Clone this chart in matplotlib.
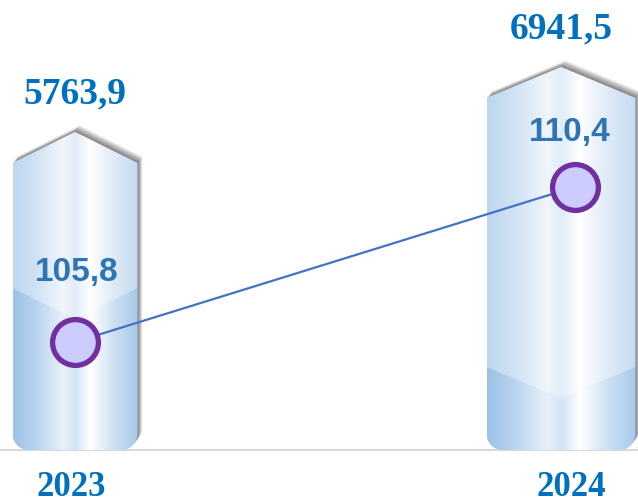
import numpy as np
import matplotlib.pyplot as plt
from matplotlib.patches import Polygon
from matplotlib.colors import LinearSegmentedColormap

# data
years = ['2023', '2024']
volume = [5763.9, 6941.5]
volume_labels = ['5763,9', '6941,5']
index_pct = [105.8, 110.4]
index_labels = ['105,8', '110,4']

W, H = 638, 503
BASE = 450  # baseline, px from top

fig = plt.figure(figsize=(W / 100, H / 100), dpi=100)
ax = fig.add_axes([0, (H - BASE) / H, 1, BASE / H])
x0, x1 = -75 / 500, (W - 75) / 500
y0, y1 = 0, 8155
ax.set_xlim(x0, x1)
ax.set_ylim(y0, y1)
ax.axis('off')

ax2 = ax.twinx()
ax2.set_ylim(102.595, 115.948)
ax2.axis('off')

# pixel -> data scale factors
px_x = W / (x1 - x0)
px_y = BASE / (y1 - y0)

# picture-like styling of the bars
bar_w_px = [125, 149]
bar_shift_px = [0, -14]
split_px = [162, 83]
cap_px = 31
round_px = 16

cmap = LinearSegmentedColormap.from_list('glass', [
    (0.00, '#9CC2E5'), (0.18, '#B7D3EE'), (0.40, '#E8F1FA'),
    (0.50, '#D2E3F4'), (0.62, '#FFFFFF'), (0.80, '#CFE1F3'),
    (1.00, '#A5C8EA')])


def bar_outline(xc, hw, top):
    cap = cap_px / px_y
    rx, ry = round_px / px_x, round_px / px_y
    left, right = xc - hw, xc + hw
    pts = []
    for a in np.linspace(np.pi, 1.5 * np.pi, 10):
        pts.append((left + rx + rx * np.cos(a), ry + ry * np.sin(a)))
    for a in np.linspace(1.5 * np.pi, 2 * np.pi, 10):
        pts.append((right - rx + rx * np.cos(a), ry + ry * np.sin(a)))
    pts += [(right, top - cap), (xc, top), (left, top - cap)]
    return np.array(pts)


grad = np.linspace(0, 1, 256).reshape(1, -1)

for i, v in enumerate(volume):
    xc = i + bar_shift_px[i] / px_x
    hw = bar_w_px[i] / 2 / px_x
    pts = bar_outline(xc, hw, v)

    # soft shadow
    for k in range(1, 9):
        sh = pts + np.array([k * 0.6 / px_x, k * 0.8 / px_y])
        ax.add_patch(Polygon(sh, closed=True, facecolor='black',
                             edgecolor='none', alpha=0.075, zorder=1))

    body = Polygon(pts, closed=True, facecolor='none', edgecolor='none', zorder=2)
    ax.add_patch(body)
    im = ax.imshow(grad, cmap=cmap, aspect='auto', zorder=2,
                   extent=(xc - hw, xc + hw, 0, v), interpolation='bilinear')
    im.set_clip_path(body)

    # lighter upper part above the lower chevron
    ys = split_px[i] / px_y
    d = cap_px / px_y
    upper = Polygon([(xc - hw, ys), (xc, ys - d), (xc + hw, ys),
                     (xc + hw, v + 1), (xc - hw, v + 1)], closed=True,
                    facecolor='white', edgecolor='none', alpha=0.35, zorder=2.5)
    ax.add_patch(upper)
    upper.set_clip_path(body)

    ax.annotate(volume_labels[i], (xc, v), xytext=(0, 27), textcoords='offset points',
                ha='center', va='center', fontsize=27, fontweight='bold',
                family='Liberation Serif', color='#0070C0', annotation_clip=False)

ax.axhline(0, color='#D9D9D9', lw=1.5, clip_on=False, zorder=0.5)

# year labels
for i, y in enumerate(years):
    ax.text(i - 4 / px_x, -37 / BASE, y, transform=ax.get_xaxis_transform(),
            ha='center', va='center', fontsize=25, fontweight='bold',
            family='Liberation Serif', color='#0070C0')

# index line
xs = np.arange(len(years))
ax2.plot(xs, index_pct, color='#4472C4', lw=1.6, marker='o', ms=33,
         mfc='#CCCCFF', mec='#7030A0', mew=3.8, zorder=5)

label_off = [(1.5, 50), (-4, 39)]
for i, v in enumerate(index_pct):
    ax2.annotate(index_labels[i], (xs[i], v), xytext=label_off[i],
                 textcoords='offset points', ha='center', va='center',
                 fontsize=24, fontweight='bold', family='Liberation Sans',
                 color='#2E75B6', annotation_clip=False)

fig.savefig('out.png', dpi=100)
